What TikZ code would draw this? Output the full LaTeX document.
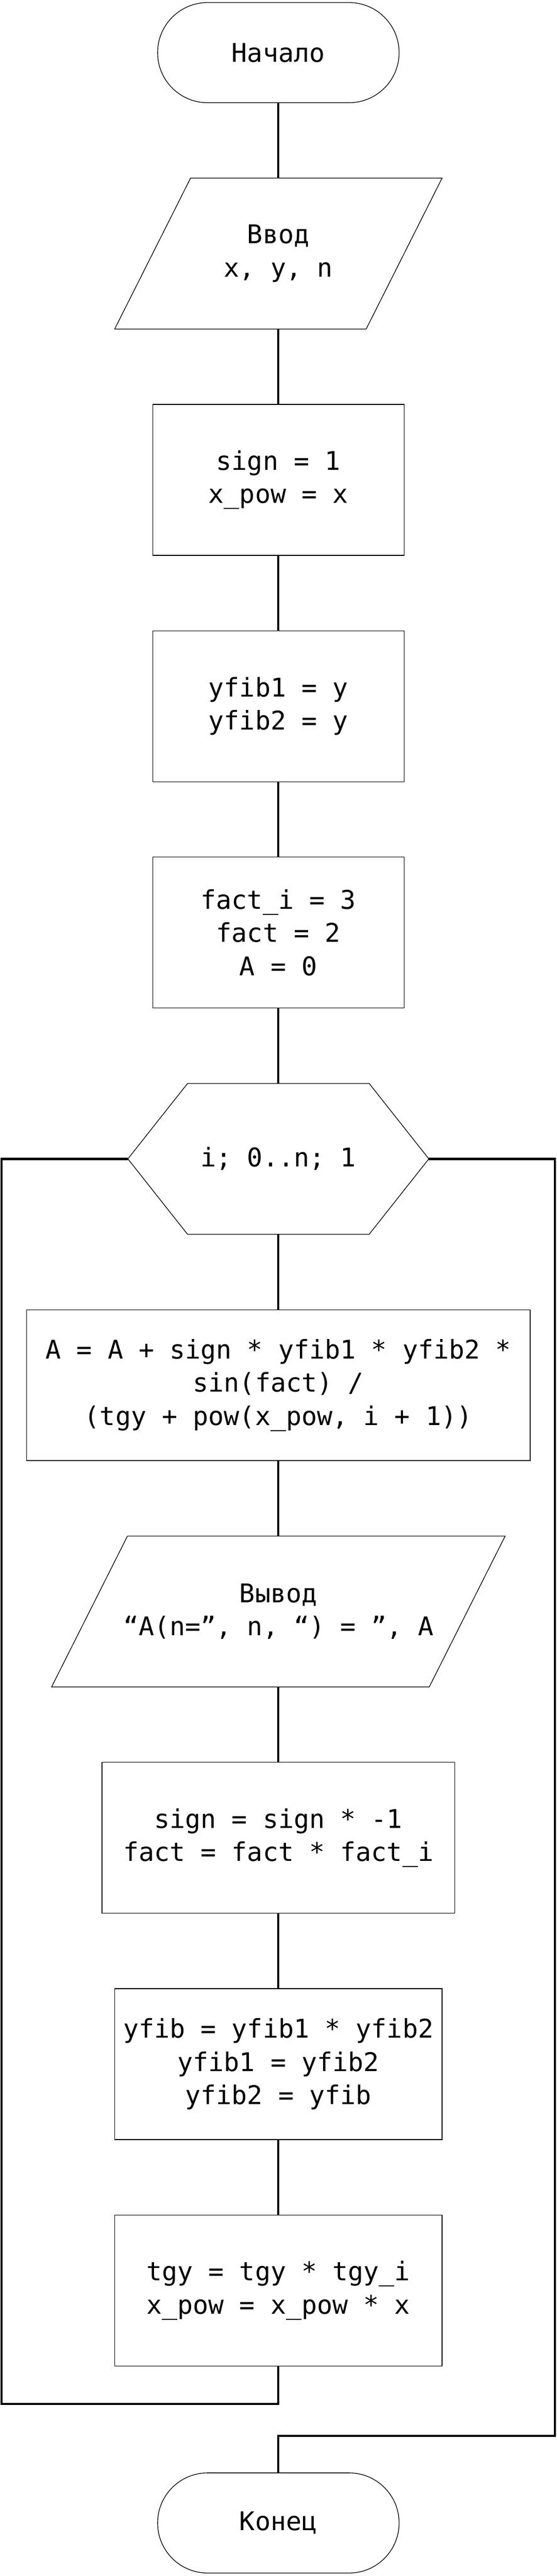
\documentclass[tikz,border=0pt]{standalone}
\usepackage{fontspec}
\usetikzlibrary{positioning, calc, shapes.misc}
\newfontfamily\codefont{DejaVu Sans Mono}
\newcommand{\slant}{.89}
\newcommand{\corner}{1.4}
\newcommand{\drawio}[1]{
  \draw[outline] ($(#1.north west) + (\slant, 0)$) -- ($(#1.north east) + (\slant, 0)$) --
  ($(#1.south east) - (\slant, 0)$) -- ($(#1.south west) - (\slant, 0)$) -- cycle;
}
\newcommand{\drawloop}[1]{
  \draw[outline] (#1.west) -- ($(#1.north west) + (\corner, 0)$) --
  ($(#1.north east) - (\corner, 0)$) -- (#1.east) --
  ($(#1.south east) - (\corner, 0)$) -- ($(#1.south west) + (\corner, 0)$) -- cycle;
}
\tikzset{
  outline/.style={line width=.45pt},
  flow/.style={line width=1.5pt},
  block/.style={rectangle, draw, outline, minimum height=3.54cm, outer sep=0, align=center},
  terminal/.style={rounded rectangle, draw, outline, minimum width=5.9cm, minimum height=2.35cm, outer sep=0},
  iobox/.style={rectangle, minimum height=3.54cm, outer sep=0, align=center},
  loopbox/.style={rectangle, minimum width=7.06cm, minimum height=3.54cm, outer sep=0}
}

\begin{document}
\begin{tikzpicture}[font=\codefont\fontsize{17.2}{22.2}\selectfont, node distance=1.77cm]
  \useasboundingbox (0, 0) rectangle (13.06, -60.44);
  \node[terminal] (start) at (6.53, -1.235) {Начало};
  \node[iobox, minimum width=5.9cm, below=of start] (input) {Ввод\\x, y, n};
  \node[block, minimum width=5.9cm, below=of input] (init1) {sign = 1\\x\_pow = x};
  \node[block, minimum width=5.9cm, below=of init1] (init2) {yfib1 = y\\yfib2 = y};
  \node[block, minimum width=5.9cm, below=of init2] (init3) {fact\_i = 3\\fact = 2\\A = 0};
  \node[loopbox, below=of init3] (loop) {i; 0..n; 1};
  \node[block, minimum width=11.82cm, below=of loop] (sum)
    {A = A + sign * yfib1 * yfib2 *\\sin(fact) /\\(tgy + pow(x\_pow, i + 1))};
  \node[iobox, minimum width=8.86cm, below=of sum] (output) {Вывод\\“A(n=”, n, “) = ”, A};
  \node[block, minimum width=8.27cm, below=of output] (step1) {sign = sign * -1\\fact = fact * fact\_i};
  \node[block, minimum width=7.68cm, below=of step1] (step2) {yfib = yfib1 * yfib2\\yfib1 = yfib2\\yfib2 = yfib};
  \node[block, minimum width=7.68cm, below=of step2] (step3) {tgy = tgy * tgy\_i\\x\_pow = x\_pow * x};
  \node[terminal, below=2.51cm of step3] (stop) {Конец};
  \drawio{input}
  \drawio{output}
  \drawloop{loop}
  \coordinate (back) at (.04, -56.40);
  \coordinate (exit) at (13.02, -57.15);
  \foreach \a/\b in {start/input, input/init1, init1/init2, init2/init3, init3/loop,
    loop/sum, sum/output, output/step1, step1/step2, step2/step3}
    \draw[flow] (\a.south) -- (\b.north);
  \draw[flow] (step3.south) |- (back) |- (loop.west);
  \draw[flow] (loop.east) -| (exit) -| (stop.north);
\end{tikzpicture}
\end{document}
